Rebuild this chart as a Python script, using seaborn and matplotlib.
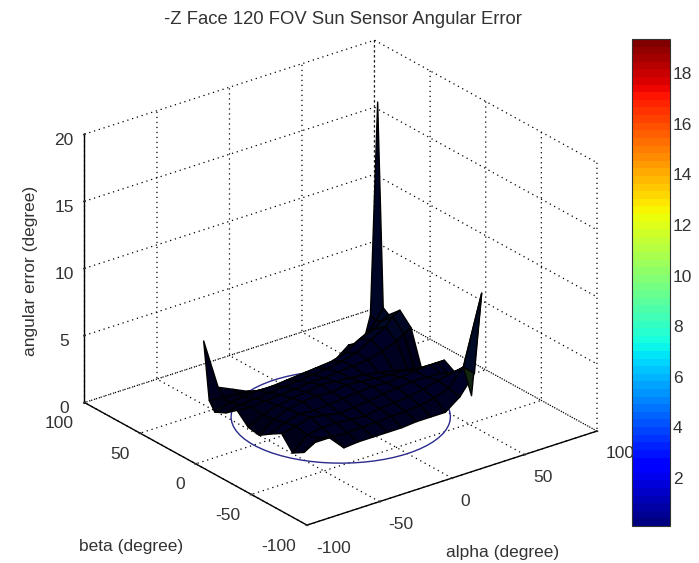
import numpy as np
import matplotlib
matplotlib.use("Agg")
import matplotlib.pyplot as plt
from matplotlib.colors import Normalize
from matplotlib.cm import ScalarMappable
from matplotlib.patches import Circle
import mpl_toolkits.mplot3d.art3d as art3d
import seaborn as sns

# angular error, rows follow beta_nodes, columns follow alpha_nodes
alpha_nodes = [-60, -50, -40, -30, -20, -10, 0, 10, 20, 30, 40, 50, 55, 60]
beta_nodes = [-55, -45, -35, -25, -15, -5, 5, 15, 25, 35, 40, 45]
# the mesh stops short of alpha=60 on its low beta rows (last two columns)
alpha_second_last = [55, 50, 55, 55, 55, 55, 55, 55, 55, 55, 55, 55]
alpha_last = [48, 50, 55, 60, 60, 60, 60, 60, 60, 60, 60, 60]
error_deg = [
    [2.7, 2.7, 1.6, 1.7, 1.7, 1.7, 1.7, 1.8, 1.8, 1.8, 2.6, 4.0, 9.8, 2.4],
    [1.5, 2.2, 2.0, 1.9, 2.0, 2.0, 2.1, 2.1, 2.2, 2.4, 2.8, 4.0, 4.0, 4.0],
    [1.0, 2.0, 2.2, 2.2, 2.1, 2.0, 2.2, 2.3, 2.4, 2.6, 2.9, 3.1, 3.2, 3.2],
    [2.0, 2.2, 2.5, 2.3, 2.1, 2.2, 2.3, 2.5, 2.6, 2.7, 2.7, 2.6, 2.4, 2.3],
    [1.5, 2.0, 2.3, 2.2, 2.3, 2.4, 2.5, 2.6, 2.5, 2.6, 2.7, 2.8, 2.8, 2.8],
    [0.95, 1.8, 2.2, 2.4, 2.5, 2.4, 2.6, 2.5, 2.4, 2.3, 2.3, 2.1, 2.0, 1.9],
    [1.1, 1.7, 2.0, 2.2, 2.3, 2.5, 2.4, 2.3, 2.2, 2.0, 1.8, 1.5, 1.2, 1.1],
    [1.9, 1.8, 1.9, 2.0, 2.1, 2.2, 2.2, 2.3, 2.4, 2.5, 2.8, 3.2, 3.6, 3.85],
    [1.25, 1.5, 1.6, 1.7, 1.8, 1.9, 2.0, 2.1, 2.3, 2.6, 3.2, 3.8, 4.4, 4.7],
    [0.85, 1.2, 1.3, 1.4, 1.4, 1.5, 1.6, 1.7, 1.8, 2.1, 2.8, 3.2, 3.6, 3.9],
    [1.5, 1.4, 1.3, 1.1, 1.0, 1.0, 1.1, 1.2, 1.3, 1.5, 2.2, 2.8, 3.4, 4.2],
    [5.7, 1.9, 1.4, 0.9, 0.6, 0.5, 0.7, 0.9, 0.6, 1.05, 1.9, 1.65, 3.6, 19.3],
]
angle_ticks = [-100, -50, 0, 50, 100]
error_ticks = [0, 5, 10, 15, 20]
colorbar_ticks = [2, 4, 6, 8, 10, 12, 14, 16, 18]
fov_radius = 60
error_min = 0.1
error_max = 19.35

sns.set_theme(style="white")
plt.rcParams["font.family"] = ["Liberation Sans", "DejaVu Sans"]
plt.rcParams["axes.unicode_minus"] = False
plt.rcParams["grid.color"] = "black"
plt.rcParams["grid.linestyle"] = (0, (1, 3))
plt.rcParams["grid.linewidth"] = 0.9
text_color = "#333333"
font_size = 12.5

jet = plt.get_cmap("jet", 64)
norm = Normalize(error_min, error_max)

fig = plt.figure(figsize=(6.99, 5.63), dpi=100)
ax = fig.add_axes([0.017, 0.005, 0.92, 0.96], projection="3d", computed_zorder=False)
ax.set_proj_type("ortho")
ax.view_init(elev=25, azim=-127.5)
ax.set_box_aspect((1, 1, 0.81), zoom=1.07)

ax.set_xlim(-100, 100)
ax.set_ylim(-100, 100)
ax.set_zlim(0, 20)
ax.set_xticks(angle_ticks)
ax.set_yticks(angle_ticks)
ax.set_zticks(error_ticks)
ax.tick_params(labelsize=font_size, colors=text_color)
ax.xaxis.set_tick_params(pad=0)
ax.yaxis.set_tick_params(pad=-0.5)
ax.zaxis.set_tick_params(pad=0)
plt.setp(ax.get_xticklabels(), ha="left")
plt.setp(ax.get_yticklabels(), ha="right")
for axis in [ax.xaxis, ax.yaxis, ax.zaxis]:
    axis.set_pane_color((1, 1, 1, 0))
    axis.pane.set_edgecolor("none")
    axis.line.set_color("black")
    axis.line.set_linewidth(1)
    axis._axinfo["tick"]["inward_factor"] = 0.03
    axis._axinfo["tick"]["outward_factor"] = 0.03

# FOV circle on the floor, under the surface
fov = Circle((0, 0), fov_radius, fill=False, edgecolor="#2a2a8c", linewidth=1, zorder=1)
ax.add_patch(fov)
art3d.pathpatch_2d_to_3d(fov, z=0, zdir="z")

alpha_mesh, beta_mesh = np.meshgrid(alpha_nodes, beta_nodes)
alpha_mesh = alpha_mesh.astype(float)
alpha_mesh[:, -2] = alpha_second_last
alpha_mesh[:, -1] = alpha_last
error_mesh = np.array(error_deg)

# the real mesh is so dense that its edges turn the faces nearly black
face_rgba = jet(norm(error_mesh))
face_rgba[..., :3] *= 0.15
ax.plot_surface(alpha_mesh, beta_mesh, error_mesh, facecolors=face_rgba, rstride=1, cstride=1,
                shade=False, edgecolor="black", linewidth=1, zorder=2)

# mplot3d turns its axis labels along the axes, the labels here stay flat
fig.text(342.5 / 699, 1 - 20 / 563, "-Z Face 120 FOV Sun Sensor Angular Error", ha="center", va="center",
         fontsize=13.3, color=text_color)
fig.text(131.5 / 699, 1 - 546 / 563, "beta (degree)", ha="center", va="center", fontsize=font_size, color=text_color)
fig.text(503 / 699, 1 - 553 / 563, "alpha (degree)", ha="center", va="center", fontsize=font_size, color=text_color)
fig.text(31 / 699, 1 - 271 / 563, "angular error (degree)", rotation=90, ha="center", va="center",
         fontsize=font_size, color=text_color)

cax = fig.add_axes([632 / 699, 1 - 526 / 563, 38 / 699, 487 / 563], zorder=5)
cbar = fig.colorbar(ScalarMappable(norm=norm, cmap=jet), cax=cax, ticks=colorbar_ticks)
cbar.ax.tick_params(labelsize=font_size, length=3, direction="in", left=True, right=True, colors=text_color, pad=2)
cbar.outline.set_edgecolor("#333333")
cbar.outline.set_linewidth(0.8)

fig.savefig("out.png", dpi=100)
